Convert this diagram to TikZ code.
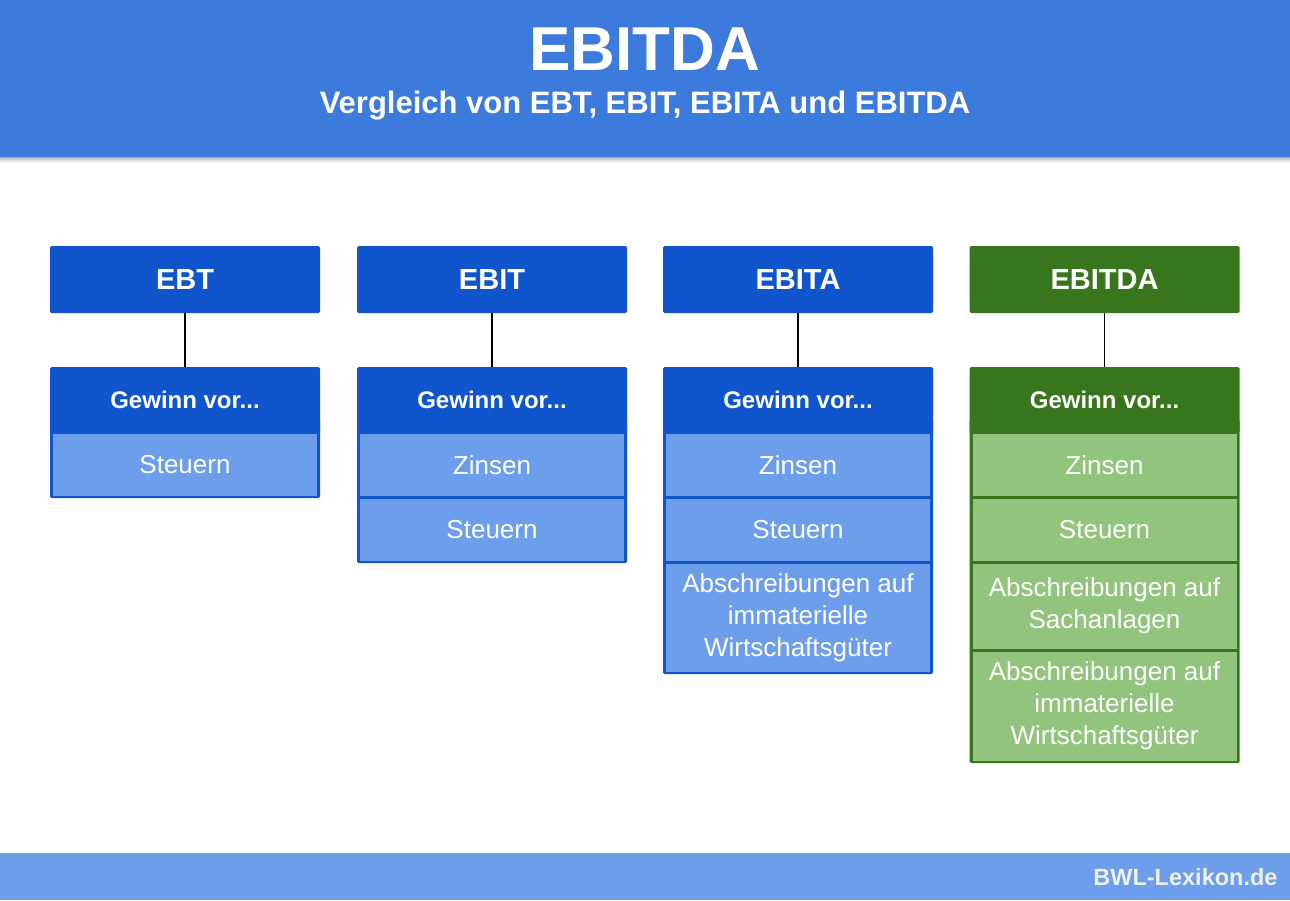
\documentclass[tikz,border=0pt]{standalone}
\usepackage{fontspec}
\setmainfont{Liberation Sans}
\definecolor{headbg}{HTML}{3C7ADB}
\definecolor{dblue}{HTML}{1155CC}
\definecolor{lblue}{HTML}{6D9EEB}
\definecolor{dgreen}{HTML}{38761D}
\definecolor{lgreen}{HTML}{93C47D}
\definecolor{foottxt}{HTML}{F0F0F0}
\begin{document}
\begin{tikzpicture}[x=1pt,y=-1pt,
  topbox/.style={fill=#1, draw=none, rounded corners=1.5pt, minimum width=270pt, minimum height=67pt, inner sep=0pt,
    text=white, font=\fontsize{29}{34}\selectfont\bfseries},
  gewbox/.style={fill=#1, draw=none, rounded corners=1.5pt, minimum width=270pt, minimum height=66pt, inner sep=0pt,
    text=white, font=\fontsize{24}{30}\selectfont\bfseries},
  itembox/.style={fill=#1, draw=none, minimum width=264pt, inner sep=0pt, align=center,
    text=white, font=\fontsize{26}{32}\selectfont},
  block/.style={fill=#1, rounded corners=1.5pt},
  link/.style={draw=black, line width=1.5pt}
]
\useasboundingbox (0,0) rectangle (1290,900);
% header
\foreach \i/\o in {0/0.35,1/0.25,2/0.18,3/0.12,4/0.07,5/0.04,6/0.02}
  \fill[black, opacity=\o] (0,157+\i) rectangle (1290,158+\i);
\fill[headbg] (0,0) rectangle (1290,157);
\node[text=white, font=\fontsize{62}{70}\selectfont\bfseries] (title) at (645,49) {EBITDA};
\node[text=white, font=\fontsize{31}{36}\selectfont\bfseries] (subtitle) at (645,106) {Vergleich von EBT, EBIT, EBITA und EBITDA};
% footer
\fill[lblue] (0,853) rectangle (1290,900);
\node[anchor=east, text=foottxt, font=\fontsize{23.5}{28}\selectfont\bfseries] (foot) at (1281,877) {BWL-Lexikon.de};

% ---------- column 1: EBT
\fill[block=dblue] (50,420) rectangle (320,498);
\node[topbox=dblue] (t1) at (185,279.5) {EBT};
\node[gewbox=dblue] (g1) at (185,400) {Gewinn vor...};
\node[itembox=lblue, minimum height=61.5pt] (a1) at (185,464.75) {Steuern};
\draw[link] (t1.south) -- (g1.north);

% ---------- column 2: EBIT
\fill[block=dblue] (357,420) rectangle (627,563);
\node[topbox=dblue] (t2) at (492,279.5) {EBIT};
\node[gewbox=dblue] (g2) at (492,400) {Gewinn vor...};
\node[itembox=lblue, minimum height=61.5pt] (a2) at (492,464.75) {Zinsen};
\node[itembox=lblue, minimum height=61.5pt] (b2) at (492,529.75) {Steuern};
\draw[link] (t2.south) -- (g2.north);

% ---------- column 3: EBITA
\fill[block=dblue] (663,420) rectangle (933,674);
\node[topbox=dblue] (t3) at (798,279.5) {EBITA};
\node[gewbox=dblue] (g3) at (798,400) {Gewinn vor...};
\node[itembox=lblue, minimum height=61.5pt] (a3) at (798,464.75) {Zinsen};
\node[itembox=lblue, minimum height=61.5pt] (b3) at (798,529.75) {Steuern};
\node[itembox=lblue, minimum height=108pt] (c3) at (798,617.5) {Abschreibungen auf\\immaterielle\\Wirtschaftsgüter};
\draw[link] (t3.south) -- (g3.north);

% ---------- column 4: EBITDA
\fill[block=dgreen] (969.5,420) rectangle (1239.5,763);
\node[topbox=dgreen] (t4) at (1104.5,279.5) {EBITDA};
\node[gewbox=dgreen] (g4) at (1104.5,400) {Gewinn vor...};
\node[itembox=lgreen, minimum height=61.5pt] (a4) at (1104.5,464.75) {Zinsen};
\node[itembox=lgreen, minimum height=61.5pt] (b4) at (1104.5,529.75) {Steuern};
\node[itembox=lgreen, minimum height=85pt] (c4) at (1104.5,606) {Abschreibungen auf\\Sachanlagen};
\node[itembox=lgreen, minimum height=109pt] (d4) at (1104.5,706) {Abschreibungen auf\\immaterielle\\Wirtschaftsgüter};
\draw[link] (t4.south) -- (g4.north);
\end{tikzpicture}
\end{document}
